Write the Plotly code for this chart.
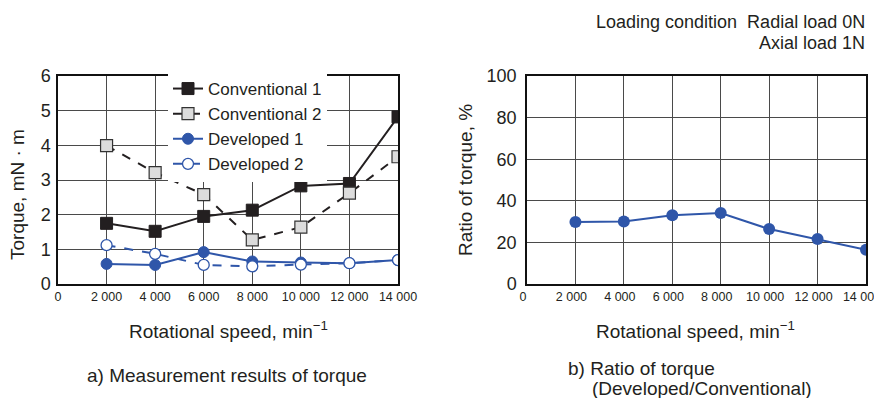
import plotly.graph_objects as go

speeds = [2000, 4000, 6000, 8000, 10000, 12000, 14000]
conv1 = [1.75, 1.52, 1.95, 2.13, 2.83, 2.90, 4.82]
conv2 = [3.99, 3.21, 2.58, 1.27, 1.64, 2.62, 3.67]
dev1 = [0.58, 0.55, 0.92, 0.65, 0.62, 0.60, 0.69]
dev2 = [1.12, 0.87, 0.55, 0.51, 0.56, 0.60, 0.69]
ratio = [29.8, 30.0, 33.0, 34.1, 26.4, 21.6, 16.5]

x_tickvals = [0, 2000, 4000, 6000, 8000, 10000, 12000, 14000]
x_ticktext = ["0", "2 000", "4 000", "6 000", "8 000", "10 000", "12 000", "14 000"]

BLUE = "#2f56a9"
INK = "#231f20"
FONT = "Liberation Sans, Arial, sans-serif"

fig = go.Figure()
fig.add_trace(go.Scatter(x=speeds, y=conv1, name="Conventional 1", mode="lines+markers",
                         line=dict(color=INK, width=2),
                         marker=dict(symbol="square", size=12, color=INK,
                                     line=dict(color=INK, width=1)),
                         xaxis="x", yaxis="y"))
fig.add_trace(go.Scatter(x=speeds, y=conv2, name="Conventional 2", mode="lines+markers",
                         line=dict(color=INK, width=2, dash="dash"),
                         marker=dict(symbol="square", size=12, color="#dcdcdc",
                                     line=dict(color="#333333", width=1.2)),
                         xaxis="x", yaxis="y"))
fig.add_trace(go.Scatter(x=speeds, y=dev1, name="Developed 1", mode="lines+markers",
                         line=dict(color=BLUE, width=2),
                         marker=dict(symbol="circle", size=11, color=BLUE,
                                     line=dict(color=BLUE, width=1)),
                         xaxis="x", yaxis="y"))
fig.add_trace(go.Scatter(x=speeds, y=dev2, name="Developed 2", mode="lines+markers",
                         line=dict(color=BLUE, width=2, dash="dash"),
                         marker=dict(symbol="circle", size=11, color="white",
                                     line=dict(color=BLUE, width=1.3)),
                         xaxis="x", yaxis="y"))
fig.add_trace(go.Scatter(x=speeds, y=ratio, name="Ratio", mode="lines+markers",
                         line=dict(color=BLUE, width=2),
                         marker=dict(symbol="circle", size=12, color=BLUE),
                         showlegend=False, xaxis="x2", yaxis="y2"))

# page body has an 8px default margin; figure is sized to fill the rest of the window
OFF = 8
W, H = 882 - OFF, 398 - OFF
def px(x):
    return (x - OFF) / W
def py(y):
    return 1 - (y - OFF) / H
def dx(a, b):
    return [px(a), px(b)]
def dy(top, bottom):
    return [py(bottom), py(top)]

axis_common = dict(showline=True, mirror=True, linecolor="#111111", linewidth=1.5,
                   showgrid=True, gridcolor="#4a4a4a", gridwidth=1, zeroline=False,
                   ticks="", color=INK, automargin=False)

fig.update_layout(
    width=W, height=H, margin=dict(l=0, r=0, t=0, b=0, autoexpand=False),
    paper_bgcolor="white", plot_bgcolor="white",
    font=dict(family=FONT, color=INK),
    xaxis=dict(domain=dx(58, 398), range=[0, 14000], tickvals=x_tickvals, ticktext=x_ticktext,
               tickfont=dict(size=12.5), anchor="y", ticklabeloverflow="allow", **axis_common),
    yaxis=dict(domain=dy(76, 284), range=[0, 6], tickvals=[0, 1, 2, 3, 4, 5, 6],
               tickfont=dict(size=18), anchor="x", ticklabelstandoff=2, **axis_common),
    xaxis2=dict(domain=dx(527, 866), range=[0, 14000], tickvals=x_tickvals, ticktext=x_ticktext,
                tickfont=dict(size=12.5), anchor="y2", ticklabeloverflow="allow",
                ticklabelshift=-4, **axis_common),
    yaxis2=dict(domain=dy(76, 284), range=[0, 100], tickvals=[0, 20, 40, 60, 80, 100],
                tickfont=dict(size=18), anchor="x2", ticklabelstandoff=5, **axis_common),
    legend=dict(x=px(168), y=py(71), xanchor="left", yanchor="top",
                bgcolor="white", borderwidth=0, font=dict(size=17, color=INK),
                tracegroupgap=0, itemwidth=30),
    showlegend=True,
)

def ann(text, x, y, size=19, xanchor="center", textangle=0, align="center", yanchor="middle"):
    fig.add_annotation(text=text, x=px(x), y=py(y), xref="paper", yref="paper",
                       showarrow=False, xanchor=xanchor, yanchor=yanchor,
                       textangle=textangle, align=align, borderpad=0,
                       font=dict(size=size, family=FONT, color=INK))

ann("Torque, mN · m", 17, 195, size=19, textangle=-90)
ann("Ratio of torque, %", 465, 180, size=19, textangle=-90)
ann("Rotational speed, min<sup>−1</sup>", 228, 330, size=19)
ann("Rotational speed, min<sup>−1</sup>", 695, 330, size=19)
ann("a) Measurement results of torque", 227, 375, size=19)
ann("b) Ratio of torque", 567, 368, size=19, xanchor="left")
ann("(Developed/Conventional)", 591, 388, size=19, xanchor="left")
ann("Loading condition  Radial load 0N", 866, 22, size=18, xanchor="right")
ann("Axial load 1N", 866, 43, size=18, xanchor="right")

fig.write_html("out.html")
